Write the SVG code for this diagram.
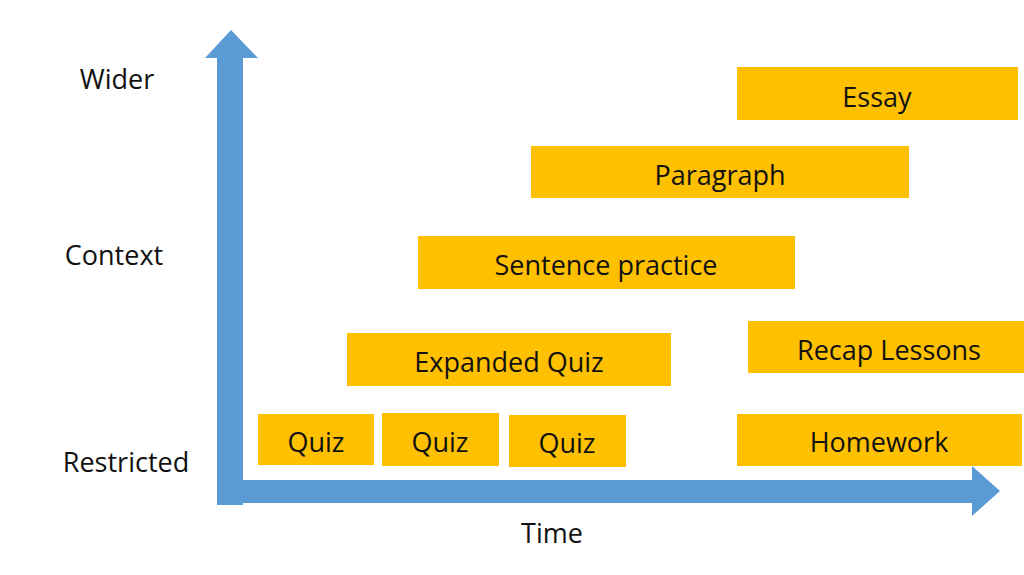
<svg xmlns="http://www.w3.org/2000/svg" width="1024" height="575" viewBox="0 0 1024 575">
<style>
.b{fill:#FFC000}
text{font-family:"Open Sans","Liberation Sans",sans-serif;font-size:27px;fill:#111;text-anchor:middle;dominant-baseline:central}
.ax{fill:#5B9BD5}
</style>
<rect width="1024" height="575" fill="#fff"/>
<g id="connectors">
<path class="ax" d="M217 505 V58 H205 L231 30 L258 58 H243 V505 Z"/>
<path class="ax" d="M217 480 H972 V466 L1000 491 L972 516 V503 H217 Z"/>
</g>
<g id="labels">
<text x="117" y="78">Wider</text>
<text x="114" y="254">Context</text>
<text x="126" y="461">Restricted</text>
<text x="552" y="532">Time</text>
</g>
<g id="essay"><rect class="b" x="737" y="67" width="281" height="53"/><text x="877" y="96">Essay</text></g>
<g id="paragraph"><rect class="b" x="531" y="146" width="378" height="52"/><text x="720" y="174">Paragraph</text></g>
<g id="sentence"><rect class="b" x="418" y="236" width="377" height="53"/><text x="606" y="264">Sentence practice</text></g>
<g id="expanded"><rect class="b" x="347" y="333" width="324" height="53"/><text x="509" y="361">Expanded Quiz</text></g>
<g id="recap"><rect class="b" x="748" y="321" width="276" height="52"/><text x="889" y="349">Recap Lessons</text></g>
<g id="quiz1"><rect class="b" x="258" y="414" width="116" height="51"/><text x="316" y="441">Quiz</text></g>
<g id="quiz2"><rect class="b" x="382" y="413" width="117" height="53"/><text x="440" y="441">Quiz</text></g>
<g id="quiz3"><rect class="b" x="509" y="415" width="117" height="52"/><text x="567" y="442">Quiz</text></g>
<g id="homework"><rect class="b" x="737" y="414" width="285" height="52"/><text x="879" y="441">Homework</text></g>
</svg>
